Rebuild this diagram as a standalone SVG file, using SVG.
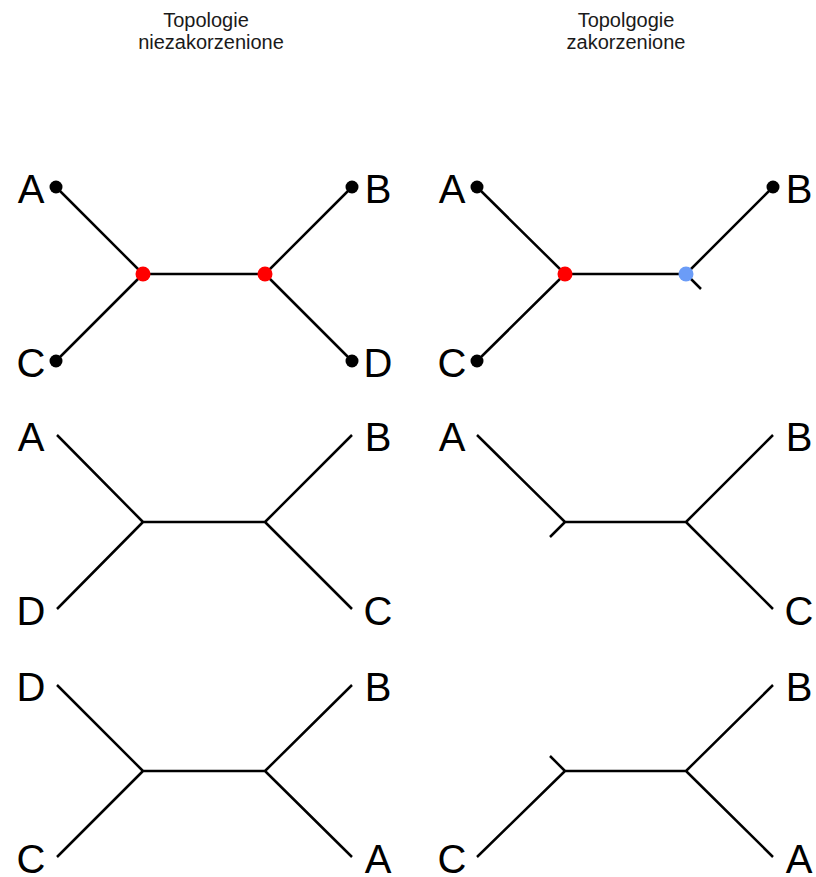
<svg xmlns="http://www.w3.org/2000/svg" width="816" height="877" viewBox="0 0 816 877">
<style>
.lbl{font-family:"Liberation Sans",Arial,sans-serif;font-size:40px;fill:#000;text-anchor:middle}
.ttl{font-family:"Liberation Sans",Arial,sans-serif;font-size:20px;fill:#1a1a1a;text-anchor:middle}
.e{stroke:#000;stroke-width:2.5;fill:none;stroke-linecap:butt}
.leaf{fill:#000}
.red{fill:#ff0000}
.blue{fill:#6b9cf7}
</style>
<rect width="816" height="877" fill="#fff"/>
<g id="titles">
<text class="ttl" x="206" y="27">Topologie</text>
<text class="ttl" x="211" y="49">niezakorzenione</text>
<text class="ttl" x="626" y="27">Topolgogie</text>
<text class="ttl" x="626" y="49">zakorzenione</text>
</g>
<g id="connectors">
<!-- row 1 left -->
<path class="e" d="M56,187L143,274M56,361L143,274M143,274H265M352,187L265,274M352,361L265,274"/>
<!-- row 1 right -->
<path class="e" d="M477,187L565,274M477,361L565,274M565,274H686M773,187L686,274M686,274L701,289"/>
<!-- row 2 left -->
<path class="e" d="M57,435L143,522M57,609L143,522M143,522H265M352,435L265,522M352,609L265,522"/>
<!-- row 2 right -->
<path class="e" d="M477,435L565,522M565,522L550,537M565,522H686M773,435L686,522M773,609L686,522"/>
<!-- row 3 left -->
<path class="e" d="M57,685L143,771M57,857L143,771M143,771H265M352,685L265,771M352,857L265,771"/>
<!-- row 3 right -->
<path class="e" d="M550,756L565,771M477,857L565,771M565,771H686M773,685L686,771M773,857L686,771"/>
</g>
<g id="r1L-A"><circle class="leaf" cx="56" cy="187" r="6.5"/><text class="lbl" x="31" y="203">A</text></g>
<g id="r1L-C"><circle class="leaf" cx="56" cy="361" r="6.5"/><text class="lbl" x="31" y="377">C</text></g>
<g id="r1L-B"><circle class="leaf" cx="352" cy="187" r="6.5"/><text class="lbl" x="378" y="203">B</text></g>
<g id="r1L-D"><circle class="leaf" cx="352" cy="361" r="6.5"/><text class="lbl" x="378" y="377">D</text></g>
<g id="r1L-n1"><circle class="red" cx="143" cy="274" r="7.5"/></g>
<g id="r1L-n2"><circle class="red" cx="265" cy="274" r="7.5"/></g>
<g id="r1R-A"><circle class="leaf" cx="477" cy="187" r="6.5"/><text class="lbl" x="452" y="203">A</text></g>
<g id="r1R-C"><circle class="leaf" cx="477" cy="361" r="6.5"/><text class="lbl" x="452" y="377">C</text></g>
<g id="r1R-B"><circle class="leaf" cx="773" cy="187" r="6.5"/><text class="lbl" x="799" y="203">B</text></g>
<g id="r1R-n1"><circle class="red" cx="565" cy="274" r="7.5"/></g>
<g id="r1R-root"><circle class="blue" cx="686" cy="274" r="7.5"/></g>
<g id="r2L-A"><text class="lbl" x="31" y="451">A</text></g>
<g id="r2L-D"><text class="lbl" x="31" y="625">D</text></g>
<g id="r2L-B"><text class="lbl" x="378" y="451">B</text></g>
<g id="r2L-C"><text class="lbl" x="378" y="625">C</text></g>
<g id="r2R-A"><text class="lbl" x="452" y="451">A</text></g>
<g id="r2R-B"><text class="lbl" x="799" y="451">B</text></g>
<g id="r2R-C"><text class="lbl" x="799" y="625">C</text></g>
<g id="r3L-D"><text class="lbl" x="31" y="701">D</text></g>
<g id="r3L-C"><text class="lbl" x="31" y="873">C</text></g>
<g id="r3L-B"><text class="lbl" x="378" y="701">B</text></g>
<g id="r3L-A"><text class="lbl" x="378" y="873">A</text></g>
<g id="r3R-C"><text class="lbl" x="452" y="873">C</text></g>
<g id="r3R-B"><text class="lbl" x="799" y="701">B</text></g>
<g id="r3R-A"><text class="lbl" x="799" y="873">A</text></g>
</svg>
